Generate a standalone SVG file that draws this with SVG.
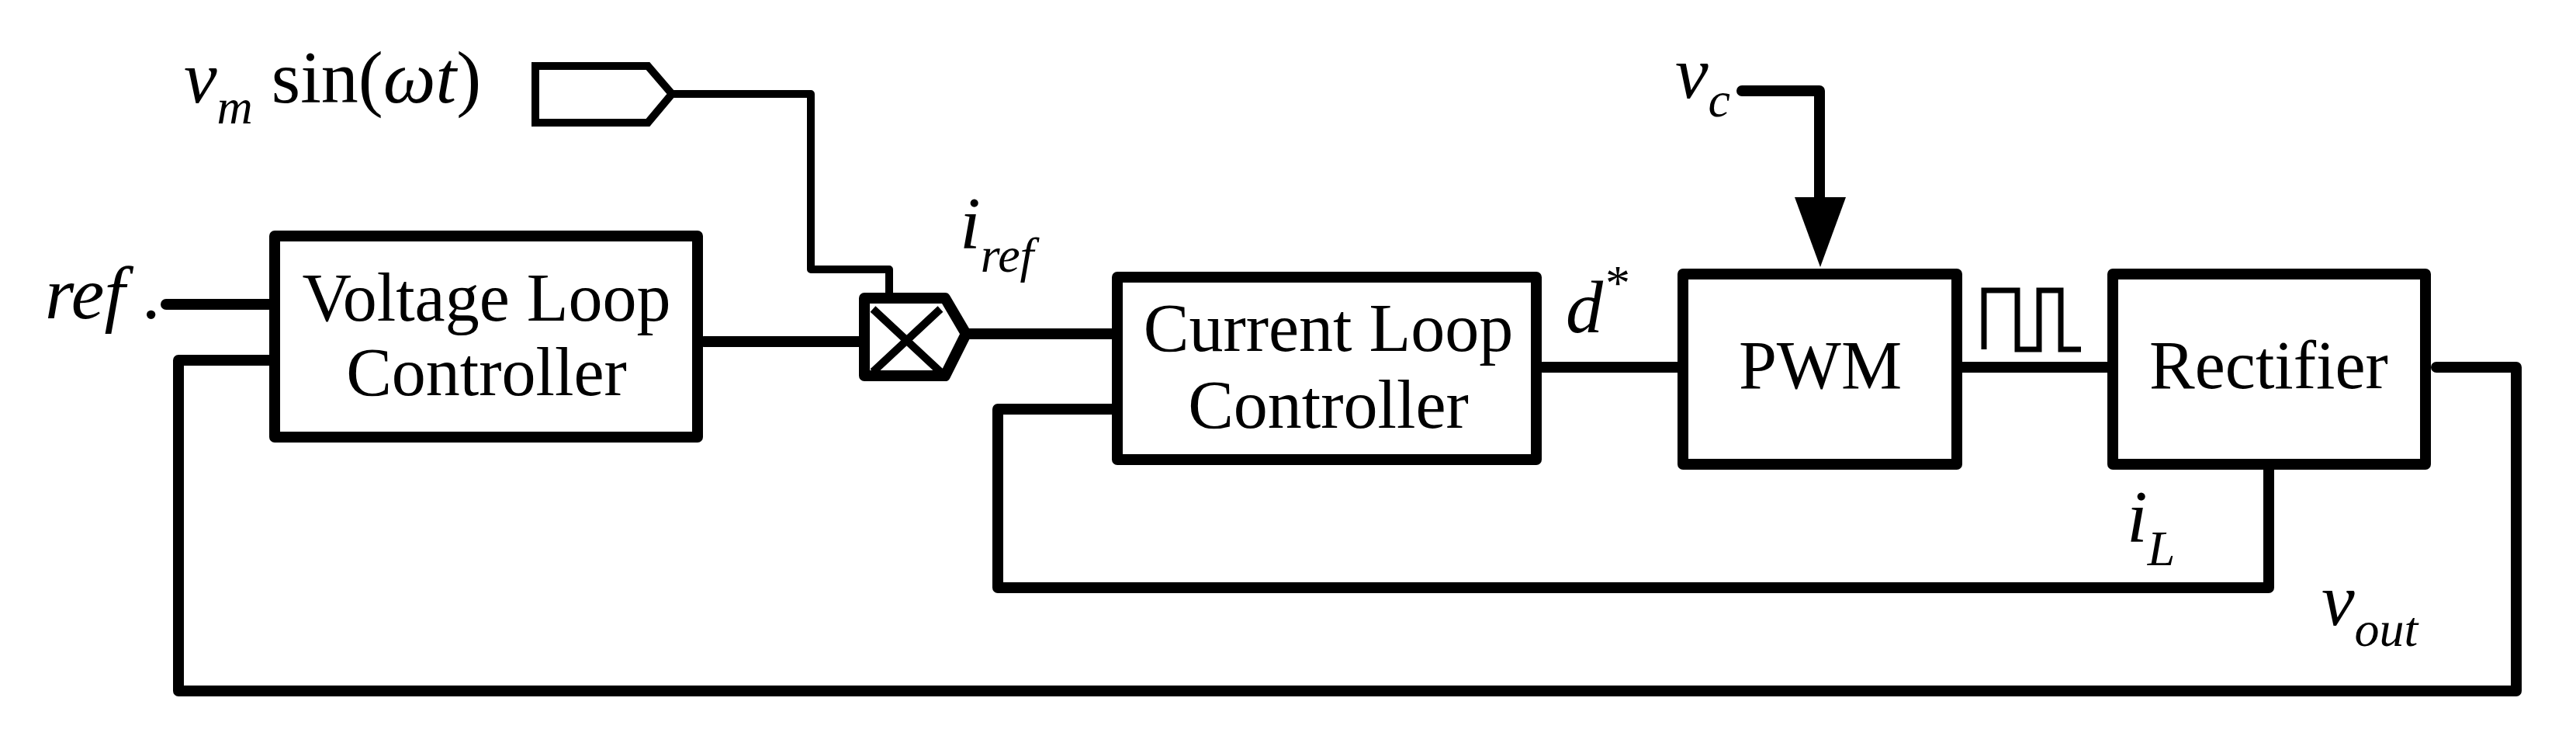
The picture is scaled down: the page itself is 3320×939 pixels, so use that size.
<svg xmlns="http://www.w3.org/2000/svg" width="3320" height="939" viewBox="0 0 3320 939">
<style>
.box{fill:#fff;stroke:#000;stroke-width:14;stroke-linejoin:round}
.w{fill:none;stroke:#000;stroke-width:14;stroke-linejoin:round;stroke-linecap:round}
.t{font-family:"Liberation Serif",serif;font-size:88px;text-anchor:middle}
.l{font-family:"Liberation Serif",serif;font-style:italic;font-size:96px}
.s{font-size:64px}
</style>
<rect width="3320" height="939" fill="#fff"/>
<g id="connectors">
<path class="w" d="M214,392 H352"/>
<path class="w" d="M352,464 H230 V890 H3243 V473 H3140"/>
<path class="w" style="stroke-width:10" d="M866,121 H1045 V347 H1146 V377"/>
<path class="w" d="M907,440 H1107"/>
<path class="w" d="M1248,430 H1433"/>
<path class="w" d="M1433,527 H1286 V757 H2924 V605"/>
<path class="w" d="M1988,473 H2162"/>
<path class="w" d="M2529,473 H2716"/>
<path class="w" d="M2245,117 H2345 V260"/>
<polygon points="2313,254 2379,254 2346,344" fill="#000"/>
<path fill="none" stroke="#000" stroke-width="7" d="M2557,450 V374 H2600 V450 H2628 V374 H2656 V450 H2682"/>
</g>
<g id="sine-input">
<polygon points="690,85 835,85 866,121 835,158 690,158" fill="#fff" stroke="#000" stroke-width="10"/>
<text class="l" x="237" y="132">v<tspan class="s" dy="27">m</tspan><tspan dy="-27" style="font-style:normal"> sin(</tspan>ωt<tspan style="font-style:normal">)</tspan></text>
</g>
<g id="voltage-loop">
<rect class="box" x="354" y="304" width="545" height="259"/>
<text class="t" x="627" y="413">Voltage Loop</text>
<text class="t" x="627" y="509">Controller</text>
</g>
<text class="l" x="58" y="410">ref .</text>
<g id="multiplier">
<polygon points="1114,384 1218,384 1245,430 1218,484 1114,484" fill="#fff" stroke="#000" stroke-width="14" stroke-linejoin="round"/>
<path d="M1125,398 L1212,479 M1212,398 L1125,479" stroke="#000" stroke-width="10"/>
<text class="l" x="1237" y="320">i<tspan class="s" dy="30">ref</tspan></text>
</g>
<g id="current-loop">
<rect class="box" x="1440" y="357" width="540" height="235"/>
<text class="t" x="1712" y="452">Current Loop</text>
<text class="t" x="1712" y="551">Controller</text>
</g>
<text class="l" x="2018" y="428">d<tspan class="s" dy="-42">*</tspan></text>
<g id="pwm">
<rect class="box" x="2169" y="353" width="353" height="245"/>
<text class="t" x="2346" y="500">PWM</text>
</g>
<text class="l" x="2159" y="126">v<tspan class="s" dy="24">c</tspan></text>
<g id="rectifier">
<rect class="box" x="2723" y="353" width="403" height="245"/>
<text class="t" x="2924" y="500">Rectifier</text>
</g>
<text class="l" x="2741" y="698">i<tspan class="s" dy="30">L</tspan></text>
<text class="l" x="2992" y="805">v<tspan class="s" dy="27">out</tspan></text>
</svg>
